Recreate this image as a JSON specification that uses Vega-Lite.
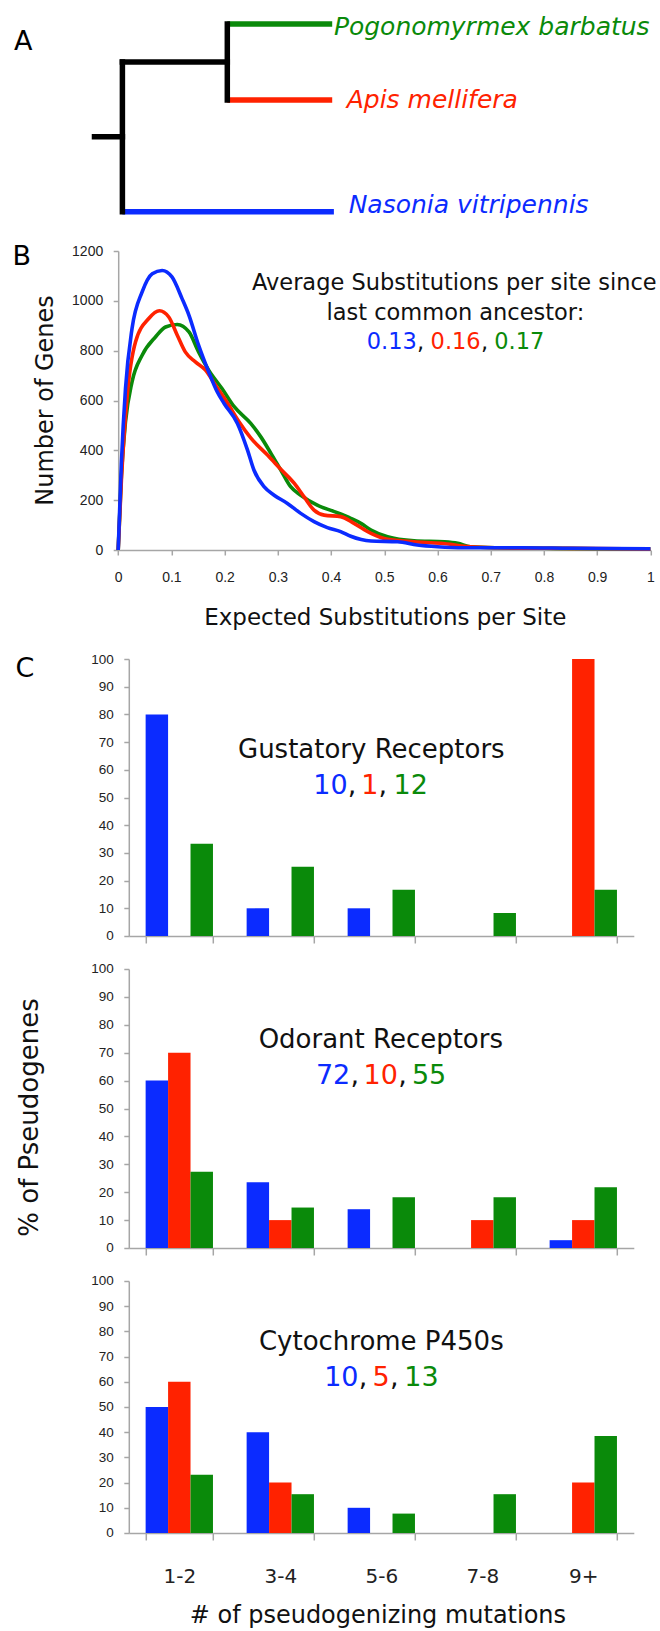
{
  "$schema": "https://vega.github.io/schema/vega-lite/v6.json",
  "padding": {"left": 11.8, "top": 5, "right": 5, "bottom": 5},
  "spacing": 33,
  "bounds": "flush",
  "config": {
    "view": {"stroke": null},
    "font": "DejaVu Sans",
    "axis": {
      "domainColor": "#a6a6a6", "tickColor": "#a6a6a6", "domainWidth": 1.5, "tickWidth": 1.5,
      "grid": false, "labelColor": "#222", "labelFont": "Liberation Sans", "labelOverlap": false,
      "titleFont": "DejaVu Sans", "titleColor": "#111", "titleFontWeight": "normal"
    }
  },
  "datasets": {
    "curves": [
      {"sp":"P","x":0,"y":0},{"sp":"P","x":0.006,"y":300},{"sp":"P","x":0.0137,"y":514},{"sp":"P","x":0.026,"y":675},{"sp":"P","x":0.045,"y":782},{"sp":"P","x":0.07,"y":855},{"sp":"P","x":0.089,"y":895},{"sp":"P","x":0.111,"y":905},{"sp":"P","x":0.133,"y":875},{"sp":"P","x":0.151,"y":795},{"sp":"P","x":0.17,"y":722},{"sp":"P","x":0.195,"y":648},{"sp":"P","x":0.218,"y":575},{"sp":"P","x":0.249,"y":508},{"sp":"P","x":0.268,"y":454},{"sp":"P","x":0.287,"y":388},{"sp":"P","x":0.3055,"y":321},{"sp":"P","x":0.324,"y":254},{"sp":"P","x":0.343,"y":220},{"sp":"P","x":0.374,"y":180},{"sp":"P","x":0.406,"y":154},{"sp":"P","x":0.437,"y":127},{"sp":"P","x":0.456,"y":107},{"sp":"P","x":0.475,"y":80},{"sp":"P","x":0.506,"y":53},{"sp":"P","x":0.556,"y":37},{"sp":"P","x":0.613,"y":33},{"sp":"P","x":0.638,"y":27},{"sp":"P","x":0.662,"y":13},{"sp":"P","x":0.712,"y":9},{"sp":"P","x":0.8,"y":7},{"sp":"P","x":0.9,"y":5},{"sp":"P","x":1,"y":4},
      {"sp":"A","x":0,"y":0},{"sp":"A","x":0.006,"y":280},{"sp":"A","x":0.017,"y":621},{"sp":"A","x":0.0325,"y":835},{"sp":"A","x":0.0575,"y":929},{"sp":"A","x":0.0775,"y":960},{"sp":"A","x":0.095,"y":935},{"sp":"A","x":0.111,"y":862},{"sp":"A","x":0.126,"y":795},{"sp":"A","x":0.145,"y":755},{"sp":"A","x":0.164,"y":722},{"sp":"A","x":0.183,"y":661},{"sp":"A","x":0.208,"y":581},{"sp":"A","x":0.227,"y":515},{"sp":"A","x":0.249,"y":450},{"sp":"A","x":0.281,"y":380},{"sp":"A","x":0.3055,"y":324},{"sp":"A","x":0.331,"y":267},{"sp":"A","x":0.349,"y":214},{"sp":"A","x":0.368,"y":160},{"sp":"A","x":0.387,"y":140},{"sp":"A","x":0.418,"y":134},{"sp":"A","x":0.443,"y":107},{"sp":"A","x":0.475,"y":67},{"sp":"A","x":0.506,"y":43},{"sp":"A","x":0.556,"y":33},{"sp":"A","x":0.606,"y":27},{"sp":"A","x":0.662,"y":13},{"sp":"A","x":0.712,"y":9},{"sp":"A","x":0.8,"y":7},{"sp":"A","x":0.9,"y":6},{"sp":"A","x":1,"y":4},
      {"sp":"N","x":0,"y":0},{"sp":"N","x":0.006,"y":350},{"sp":"N","x":0.0137,"y":648},{"sp":"N","x":0.026,"y":889},{"sp":"N","x":0.045,"y":1036},{"sp":"N","x":0.064,"y":1109},{"sp":"N","x":0.0825,"y":1122},{"sp":"N","x":0.101,"y":1096},{"sp":"N","x":0.12,"y":1009},{"sp":"N","x":0.133,"y":942},{"sp":"N","x":0.151,"y":822},{"sp":"N","x":0.17,"y":715},{"sp":"N","x":0.186,"y":635},{"sp":"N","x":0.199,"y":588},{"sp":"N","x":0.224,"y":508},{"sp":"N","x":0.243,"y":401},{"sp":"N","x":0.255,"y":321},{"sp":"N","x":0.274,"y":254},{"sp":"N","x":0.293,"y":220},{"sp":"N","x":0.318,"y":187},{"sp":"N","x":0.343,"y":147},{"sp":"N","x":0.368,"y":114},{"sp":"N","x":0.393,"y":90},{"sp":"N","x":0.418,"y":74},{"sp":"N","x":0.437,"y":55},{"sp":"N","x":0.475,"y":36},{"sp":"N","x":0.525,"y":33},{"sp":"N","x":0.562,"y":20},{"sp":"N","x":0.6,"y":13},{"sp":"N","x":0.65,"y":9},{"sp":"N","x":0.757,"y":9},{"sp":"N","x":0.85,"y":7},{"sp":"N","x":1,"y":5}
    ],
    "gust": [
      {"cat":"1-2","sp":"N","pct":80},{"cat":"1-2","sp":"A","pct":0},{"cat":"1-2","sp":"P","pct":33.3},
      {"cat":"3-4","sp":"N","pct":10},{"cat":"3-4","sp":"A","pct":0},{"cat":"3-4","sp":"P","pct":25},
      {"cat":"5-6","sp":"N","pct":10},{"cat":"5-6","sp":"A","pct":0},{"cat":"5-6","sp":"P","pct":16.7},
      {"cat":"7-8","sp":"N","pct":0},{"cat":"7-8","sp":"A","pct":0},{"cat":"7-8","sp":"P","pct":8.3},
      {"cat":"9+","sp":"N","pct":0},{"cat":"9+","sp":"A","pct":100},{"cat":"9+","sp":"P","pct":16.7}
    ],
    "odor": [
      {"cat":"1-2","sp":"N","pct":60},{"cat":"1-2","sp":"A","pct":70},{"cat":"1-2","sp":"P","pct":27.3},
      {"cat":"3-4","sp":"N","pct":23.6},{"cat":"3-4","sp":"A","pct":10},{"cat":"3-4","sp":"P","pct":14.5},
      {"cat":"5-6","sp":"N","pct":13.9},{"cat":"5-6","sp":"A","pct":0},{"cat":"5-6","sp":"P","pct":18.2},
      {"cat":"7-8","sp":"N","pct":0},{"cat":"7-8","sp":"A","pct":10},{"cat":"7-8","sp":"P","pct":18.2},
      {"cat":"9+","sp":"N","pct":2.8},{"cat":"9+","sp":"A","pct":10},{"cat":"9+","sp":"P","pct":21.8}
    ],
    "cyto": [
      {"cat":"1-2","sp":"N","pct":50},{"cat":"1-2","sp":"A","pct":60},{"cat":"1-2","sp":"P","pct":23.1},
      {"cat":"3-4","sp":"N","pct":40},{"cat":"3-4","sp":"A","pct":20},{"cat":"3-4","sp":"P","pct":15.4},
      {"cat":"5-6","sp":"N","pct":10},{"cat":"5-6","sp":"A","pct":0},{"cat":"5-6","sp":"P","pct":7.7},
      {"cat":"7-8","sp":"N","pct":0},{"cat":"7-8","sp":"A","pct":0},{"cat":"7-8","sp":"P","pct":15.4},
      {"cat":"9+","sp":"N","pct":0},{"cat":"9+","sp":"A","pct":20},{"cat":"9+","sp":"P","pct":38.5}
    ]
  },
  "vconcat": [
    {
      "width": 505, "height": 213,
      "encoding": {
        "x": {"field": "x", "type": "quantitative", "scale": {"domain": [0.12294, 1.93297], "nice": false, "zero": false}, "axis": null},
        "y": {"field": "y", "type": "quantitative", "scale": {"domain": [-0.25, 2.5526], "reverse": true, "nice": false, "zero": false}, "axis": null}
      },
      "layer": [
        {
          "data": {"values": [
            {"x":0.476,"x2":0.852,"y":0,"y2":0,"sp":"P"},
            {"x":0.476,"x2":0.852,"y":1,"y2":1,"sp":"A"},
            {"x":0.1,"x2":0.858,"y":2.47,"y2":2.47,"sp":"N"}
          ]},
          "mark": {"type": "rule", "strokeWidth": 5.5, "strokeCap": "butt"},
          "encoding": {
            "x2": {"field": "x2"}, "y2": {"field": "y2"},
            "color": {"field": "sp", "type": "nominal", "scale": {"domain": ["N","A","P","k"], "range": ["#0b2bff","#ff2200","#0a8a0a","#111111"]}, "legend": null}
          }
        },
        {
          "data": {"values": [
            {"x":0,"x2":0.1,"y":1.485,"y2":1.485},
            {"x":0.1,"x2":0.1,"y":0.5,"y2":2.47},
            {"x":0.1,"x2":0.476,"y":0.5,"y2":0.5},
            {"x":0.476,"x2":0.476,"y":0,"y2":1}
          ]},
          "mark": {"type": "rule", "strokeWidth": 5.5, "strokeCap": "square", "color": "#000000"},
          "encoding": {"x2": {"field": "x2"}, "y2": {"field": "y2"}}
        },
        {
          "data": {"values": [
            {"x":0.858,"y":0.151,"t":"Pogonomyrmex barbatus","sp":"P"},
            {"x":0.904,"y":1.099,"t":"Apis mellifera","sp":"A"},
            {"x":0.911,"y":2.493,"t":"Nasonia vitripennis","sp":"N"}
          ]},
          "mark": {"type": "text", "align": "left", "baseline": "alphabetic", "fontSize": 25, "fontStyle": "italic"},
          "encoding": {
            "text": {"field": "t"},
            "color": {"field": "sp", "type": "nominal", "scale": {"domain": ["N","A","P","k"], "range": ["#0b2bff","#ff2200","#0a8a0a","#111111"]}, "legend": null}
          }
        },
        {
          "data": {"values": [{"x": -0.2882, "y": 0.342, "t": "A"}]},
          "mark": {"type": "text", "align": "left", "baseline": "alphabetic", "fontSize": 27, "color": "#000000"},
          "encoding": {"text": {"field": "t"}}
        }
      ]
    },
    {
      "width": 505, "height": 299,
      "encoding": {
        "x": {"field": "x", "type": "quantitative",
          "scale": {"domain": [0, 1], "range": [-10.6, 521.6], "nice": false, "zero": false},
          "axis": {"values": [0,0.1,0.2,0.3,0.4,0.5,0.6,0.7,0.8,0.9,1], "format": "~g", "tickSize": 5, "labelPadding": 15.5, "labelFontSize": 14, "labelFlush": false, "labelOverlap": false,
            "title": "Expected Substitutions per Site", "titleFontSize": 23, "titleX": 256, "titleY": 74, "titleAlign": "center", "titleBaseline": "alphabetic"}},
        "y": {"field": "y", "type": "quantitative",
          "scale": {"domain": [0, 1200], "nice": false},
          "axis": {"values": [0,200,400,600,800,1000,1200], "format": "d", "tickSize": 5, "labelPadding": 10.5, "labelFontSize": 14, "offset": 10.6, "labelOverlap": false,
            "title": "Number of Genes", "titleFontSize": 24, "titleX": -65.4, "titleY": 149, "titleAngle": -90, "titleAlign": "center", "titleBaseline": "alphabetic"}},
        "color": {"field": "sp", "type": "nominal", "scale": {"domain": ["N","A","P","k"], "range": ["#0b2bff","#ff2200","#0a8a0a","#111111"]}, "legend": null}
      },
      "layer": [
        {
          "data": {"name": "curves"},
          "mark": {"type": "line", "interpolate": "monotone", "strokeWidth": 3.6}
        },
        {
          "data": {"values": [
            {"x":0.6315,"y":1043,"t":"Average Substitutions per site since","sp":"k"},
            {"x":0.6336,"y":923,"t":"last common ancestor:","sp":"k"},
            {"x":0.514,"y":806.6,"t":"0.13","sp":"N"},
            {"x":0.634,"y":806.6,"t":"0.16","sp":"A"},
            {"x":0.7536,"y":806.6,"t":"0.17","sp":"P"}
          ]},
          "mark": {"type": "text", "align": "center", "baseline": "alphabetic", "fontSize": 22.5},
          "encoding": {"text": {"field": "t"}}
        },
        {
          "data": {"values": [
            {"x":0.5615,"y":806.6,"t":",","sp":"k"},
            {"x":0.6815,"y":806.6,"t":",","sp":"k"}
          ]},
          "mark": {"type": "text", "align": "left", "baseline": "alphabetic", "fontSize": 22.5},
          "encoding": {"text": {"field": "t"}}
        },
        {
          "data": {"values": [{"x": -0.1984, "y": 1142.6, "t": "B"}]},
          "mark": {"type": "text", "align": "left", "baseline": "alphabetic", "fontSize": 27, "color": "#000000"},
          "encoding": {"text": {"field": "t"}, "color": {"value": "#000000"}}
        }
      ]
    },
    {
      "width": 505, "height": 43,
      "data": {"values": []},
      "mark": "point"
    },
    {
      "width": 505, "height": 277,
      "encoding": {
        "y": {"field": "pct", "type": "quantitative", "scale": {"domain": [0, 100], "nice": false},
          "axis": {"values": [0,10,20,30,40,50,60,70,80,90,100], "tickSize": 5, "labelPadding": 10.5, "labelFontSize": 13.5, "labelOverlap": false, "title": null}}
      },
      "layer": [
        {
          "data": {"name": "gust"},
          "mark": {"type": "bar"},
          "encoding": {
            "x": {"field": "cat", "type": "nominal", "sort": ["1-2","3-4","5-6","7-8","9+"], "scale": {"paddingInner": 0.3333, "paddingOuter": 0.1667},
              "axis": {"tickBand": "extent", "tickSize": 7, "labels": false, "title": null}},
            "xOffset": {"field": "sp", "type": "nominal", "sort": ["N","A","P"], "scale": {"domain": ["N","A","P"], "paddingInner": 0, "paddingOuter": 0}},
            "color": {"field": "sp", "type": "nominal", "scale": {"domain": ["N","A","P","k"], "range": ["#0b2bff","#ff2200","#0a8a0a","#111111"]}, "legend": null}
          }
        },
        {
          "data": {"values": [{"u": 2.401, "pct": 64.26, "t": "Gustatory Receptors"}]},
          "mark": {"type": "text", "align": "center", "baseline": "alphabetic", "fontSize": 26, "color": "#111111"},
          "encoding": {
            "x": {"field": "u", "type": "quantitative", "scale": {"domain": [0, 5], "nice": false, "zero": false}, "axis": null},
            "text": {"field": "t"}
          }
        },
        {
          "data": {"values": [
            {"u":1.997,"pct":51.26,"t":"10","sp":"N"},
            {"u":2.386,"pct":51.26,"t":"1","sp":"A"},
            {"u":2.792,"pct":51.26,"t":"12","sp":"P"}
          ]},
          "mark": {"type": "text", "align": "center", "baseline": "alphabetic", "fontSize": 27},
          "encoding": {
            "x": {"field": "u", "type": "quantitative", "scale": {"domain": [0, 5], "nice": false, "zero": false}, "axis": null},
            "text": {"field": "t"},
            "color": {"field": "sp", "type": "nominal", "scale": {"domain": ["N","A","P","k"], "range": ["#0b2bff","#ff2200","#0a8a0a","#111111"]}, "legend": null}
          }
        },
        {
          "data": {"values": [
            {"u":2.169,"pct":51.26,"t":","},
            {"u":2.473,"pct":51.26,"t":","}
          ]},
          "mark": {"type": "text", "align": "left", "baseline": "alphabetic", "fontSize": 27, "color": "#111111"},
          "encoding": {
            "x": {"field": "u", "type": "quantitative", "scale": {"domain": [0, 5], "nice": false, "zero": false}, "axis": null},
            "text": {"field": "t"}
          }
        },
        {
          "data": {"values": [{"u": -1.121, "pct": 93.68, "t": "C"}]},
          "mark": {"type": "text", "align": "left", "baseline": "alphabetic", "fontSize": 27, "color": "#000000"},
          "encoding": {
            "x": {"field": "u", "type": "quantitative", "scale": {"domain": [0, 5], "nice": false, "zero": false}, "axis": null},
            "text": {"field": "t"}
          }
        }
      ],
      "resolve": {"scale": {"x": "independent"}}
    },
    {
      "width": 505, "height": 279,
      "encoding": {
        "y": {"field": "pct", "type": "quantitative", "scale": {"domain": [0, 100], "nice": false},
          "axis": {"values": [0,10,20,30,40,50,60,70,80,90,100], "tickSize": 5, "labelPadding": 10.5, "labelFontSize": 13.5, "labelOverlap": false,
            "title": "% of Pseudogenes", "titleFontSize": 26, "titleX": -91, "titleY": 148, "titleAngle": -90, "titleAlign": "center", "titleBaseline": "alphabetic"}}
      },
      "layer": [
        {
          "data": {"name": "odor"},
          "mark": {"type": "bar"},
          "encoding": {
            "x": {"field": "cat", "type": "nominal", "sort": ["1-2","3-4","5-6","7-8","9+"], "scale": {"paddingInner": 0.3333, "paddingOuter": 0.1667},
              "axis": {"tickBand": "extent", "tickSize": 7, "labels": false, "title": null}},
            "xOffset": {"field": "sp", "type": "nominal", "sort": ["N","A","P"], "scale": {"domain": ["N","A","P"], "paddingInner": 0, "paddingOuter": 0}},
            "color": {"field": "sp", "type": "nominal", "scale": {"domain": ["N","A","P","k"], "range": ["#0b2bff","#ff2200","#0a8a0a","#111111"]}, "legend": null}
          }
        },
        {
          "data": {"values": [{"u": 2.495, "pct": 71.58, "t": "Odorant Receptors"}]},
          "mark": {"type": "text", "align": "center", "baseline": "alphabetic", "fontSize": 26, "color": "#111111"},
          "encoding": {
            "x": {"field": "u", "type": "quantitative", "scale": {"domain": [0, 5], "nice": false, "zero": false}, "axis": null},
            "text": {"field": "t"}
          }
        },
        {
          "data": {"values": [
            {"u":2.023,"pct":58.78,"t":"72","sp":"N"},
            {"u":2.495,"pct":58.78,"t":"10","sp":"A"},
            {"u":2.973,"pct":58.78,"t":"55","sp":"P"}
          ]},
          "mark": {"type": "text", "align": "center", "baseline": "alphabetic", "fontSize": 27},
          "encoding": {
            "x": {"field": "u", "type": "quantitative", "scale": {"domain": [0, 5], "nice": false, "zero": false}, "axis": null},
            "text": {"field": "t"},
            "color": {"field": "sp", "type": "nominal", "scale": {"domain": ["N","A","P","k"], "range": ["#0b2bff","#ff2200","#0a8a0a","#111111"]}, "legend": null}
          }
        },
        {
          "data": {"values": [
            {"u":2.195,"pct":58.78,"t":","},
            {"u":2.667,"pct":58.78,"t":","}
          ]},
          "mark": {"type": "text", "align": "left", "baseline": "alphabetic", "fontSize": 27, "color": "#111111"},
          "encoding": {
            "x": {"field": "u", "type": "quantitative", "scale": {"domain": [0, 5], "nice": false, "zero": false}, "axis": null},
            "text": {"field": "t"}
          }
        }
      ],
      "resolve": {"scale": {"x": "independent"}}
    },
    {
      "width": 505, "height": 252,
      "encoding": {
        "y": {"field": "pct", "type": "quantitative", "scale": {"domain": [0, 100], "nice": false},
          "axis": {"values": [0,10,20,30,40,50,60,70,80,90,100], "tickSize": 5, "labelPadding": 10.5, "labelFontSize": 13.5, "labelOverlap": false, "title": null}}
      },
      "layer": [
        {
          "data": {"name": "cyto"},
          "mark": {"type": "bar"},
          "encoding": {
            "x": {"field": "cat", "type": "nominal", "sort": ["1-2","3-4","5-6","7-8","9+"], "scale": {"paddingInner": 0.3333, "paddingOuter": 0.1667},
              "axis": {"tickBand": "extent", "tickSize": 7, "labelPadding": 27, "labelFont": "DejaVu Sans", "labelFontSize": 20, "labelAngle": 0,
                "title": "# of pseudogenizing mutations", "titleFontSize": 24, "titleX": 248.6, "titleY": 90, "titleAlign": "center", "titleBaseline": "alphabetic"}},
            "xOffset": {"field": "sp", "type": "nominal", "sort": ["N","A","P"], "scale": {"domain": ["N","A","P"], "paddingInner": 0, "paddingOuter": 0}},
            "color": {"field": "sp", "type": "nominal", "scale": {"domain": ["N","A","P","k"], "range": ["#0b2bff","#ff2200","#0a8a0a","#111111"]}, "legend": null}
          }
        },
        {
          "data": {"values": [{"u": 2.5, "pct": 72.62, "t": "Cytochrome P450s"}]},
          "mark": {"type": "text", "align": "center", "baseline": "alphabetic", "fontSize": 26, "color": "#111111"},
          "encoding": {
            "x": {"field": "u", "type": "quantitative", "scale": {"domain": [0, 5], "nice": false, "zero": false}, "axis": null},
            "text": {"field": "t"}
          }
        },
        {
          "data": {"values": [
            {"u":2.104,"pct":58.33,"t":"10","sp":"N"},
            {"u":2.499,"pct":58.33,"t":"5","sp":"A"},
            {"u":2.898,"pct":58.33,"t":"13","sp":"P"}
          ]},
          "mark": {"type": "text", "align": "center", "baseline": "alphabetic", "fontSize": 27},
          "encoding": {
            "x": {"field": "u", "type": "quantitative", "scale": {"domain": [0, 5], "nice": false, "zero": false}, "axis": null},
            "text": {"field": "t"},
            "color": {"field": "sp", "type": "nominal", "scale": {"domain": ["N","A","P","k"], "range": ["#0b2bff","#ff2200","#0a8a0a","#111111"]}, "legend": null}
          }
        },
        {
          "data": {"values": [
            {"u":2.276,"pct":58.33,"t":","},
            {"u":2.586,"pct":58.33,"t":","}
          ]},
          "mark": {"type": "text", "align": "left", "baseline": "alphabetic", "fontSize": 27, "color": "#111111"},
          "encoding": {
            "x": {"field": "u", "type": "quantitative", "scale": {"domain": [0, 5], "nice": false, "zero": false}, "axis": null},
            "text": {"field": "t"}
          }
        }
      ],
      "resolve": {"scale": {"x": "independent"}}
    }
  ]
}
